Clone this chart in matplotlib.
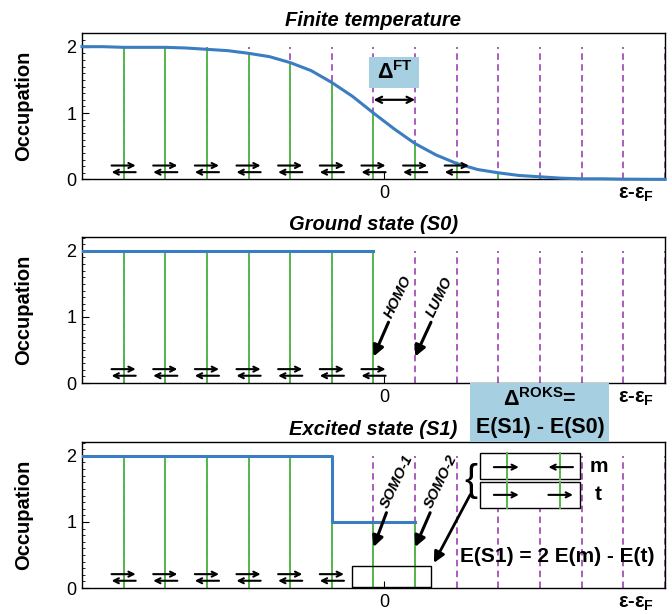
import matplotlib.pyplot as plt
import numpy as np
from matplotlib.patches import Rectangle
from matplotlib.ticker import MultipleLocator

plt.rcParams['font.family'] = ['Liberation Sans', 'DejaVu Sans']
plt.rcParams['mathtext.fontset'] = 'custom'
plt.rcParams['mathtext.rm'] = 'Liberation Sans'
plt.rcParams['mathtext.bf'] = 'Liberation Sans:bold'
plt.rcParams['mathtext.it'] = 'Liberation Sans:italic'

# orbital energies relative to the Fermi level (arb. units)
levels = [-6.3, -5.3, -4.3, -3.3, -2.3, -1.3, -0.3, 0.7, 1.7, 2.7, 3.7, 4.7, 5.7, 6.7]

# occupations per level
ft_occ = [1.99, 1.99, 1.96, 1.90, 1.76, 1.46, 1.00, 0.54, 0.24, 0.10, 0.04, 0.01, 0.005, 0.0]
s0_occ = [2, 2, 2, 2, 2, 2, 2, 0, 0, 0, 0, 0, 0, 0]
s1_occ = [2, 2, 2, 2, 2, 2, 1, 1, 0, 0, 0, 0, 0, 0]

# smearing curve
curve_x = [-7.3, -6.8, -6.3, -5.8, -5.3, -4.8, -4.3, -3.8, -3.3, -2.8, -2.3, -1.8, -1.3, -0.8, -0.3,
           0.2, 0.7, 1.2, 1.7, 2.2, 2.7, 3.2, 3.7, 4.2, 4.7, 5.2, 5.7, 6.2, 6.7]
curve_y = [2.00, 2.00, 1.99, 1.99, 1.99, 1.98, 1.96, 1.94, 1.90, 1.85, 1.76, 1.64, 1.46, 1.25, 1.00,
           0.76, 0.54, 0.37, 0.24, 0.15, 0.10, 0.06, 0.04, 0.02, 0.01, 0.01, 0.005, 0.003, 0.002]

# step lines of the ground and excited state
s0_x = [-7.3, -0.3]
s0_y = [2, 2]
s1_x = [-7.3, -1.3, -1.3, 0.7]
s1_y = [2, 2, 1, 1]

n_pairs = [9, 7, 6]
titles = ['Finite temperature', 'Ground state (S0)', 'Excited state (S1)']
xtick_pos = [-0.04, 6.0]
xtick_lab = ['0', r'ε-ε$_{\mathbf{F}}$']

blue = '#3a7dc0'
green = '#55b84a'
purple = '#a452b5'
boxblue = '#a7cfe2'


def spin(ax, x0, x1, y):
    ax.annotate('', xy=(x1, y), xytext=(x0, y),
                arrowprops=dict(arrowstyle='->', lw=1.5, color='k', shrinkA=0, shrinkB=0,
                                mutation_scale=9), zorder=5)


def setup(ax, title, occ, npair):
    ax.set_xlim(-7.3, 6.7)
    ax.set_ylim(0, 2.21)
    ax.set_title(title, fontsize=14.5, fontweight='bold', style='italic', pad=5)
    ax.set_ylabel('Occupation', fontsize=14.5, fontweight='bold')
    ax.yaxis.set_label_coords(-0.084, 0.5)
    ax.set_yticks([0, 1, 2])
    ax.yaxis.set_minor_locator(MultipleLocator(0.1))
    ax.tick_params(axis='y', which='major', direction='in', length=5, labelsize=13, pad=4)
    ax.tick_params(axis='y', which='minor', direction='in', length=2.5)
    ax.set_xticks(xtick_pos)
    ax.set_xticklabels(xtick_lab)
    ax.tick_params(axis='x', direction='in', length=5, labelsize=13, pad=4)
    ax.xaxis.get_major_ticks()[1].tick1line.set_visible(False)
    ax.get_xticklabels()[1].set_fontweight('bold')
    ax.get_xticklabels()[1].set_fontsize(14.5)
    for sp in ax.spines.values():
        sp.set_linewidth(1.0)

    for x, o in zip(levels, occ):
        ax.plot([x, x], [0, 2], color=purple, lw=1.3, ls=(0, (3.6, 2.4)), zorder=1)
        if o > 0:
            ax.plot([x, x], [0, o], color=green, lw=1.4, zorder=2)
    for x in levels[:npair]:
        spin(ax, x - 0.29, x + 0.29, 0.21)
        spin(ax, x + 0.29, x - 0.29, 0.11)


def pointer(ax, label, tip, tail, textpos):
    ax.annotate('', xy=tip, xytext=tail,
                arrowprops=dict(arrowstyle='-|>', lw=2.2, color='k', shrinkA=0, shrinkB=0,
                                mutation_scale=16), zorder=5)
    ax.text(textpos[0], textpos[1], label, rotation=64, ha='center', va='center',
            fontsize=10.5, fontweight='bold', style='italic')


fig = plt.figure(figsize=(6.72, 6.14), dpi=100)
ax1 = fig.add_axes([0.122, 0.7077, 0.8676, 0.239])
ax2 = fig.add_axes([0.122, 0.3762, 0.8676, 0.2378])
ax3 = fig.add_axes([0.122, 0.0423, 0.8676, 0.2378])

# finite temperature
setup(ax1, titles[0], ft_occ, n_pairs[0])
ax1.plot(curve_x, curve_y, color=blue, lw=2.2, zorder=3, clip_on=False)
ax1.add_patch(Rectangle((-0.4, 1.38), 1.2, 0.47, facecolor=boxblue, edgecolor='none', zorder=3))
ax1.text(0.21, 1.61, r'Δ$^{\mathbf{FT}}$', ha='center', va='center', fontsize=15.5,
         fontweight='bold', zorder=4)
ax1.annotate('', xy=(0.7, 1.20), xytext=(-0.3, 1.20),
             arrowprops=dict(arrowstyle='<->', lw=1.6, color='k', shrinkA=0, shrinkB=0,
                             mutation_scale=11), zorder=4)

# ground state
setup(ax2, titles[1], s0_occ, n_pairs[1])
ax2.plot(s0_x, s0_y, color=blue, lw=2.2, zorder=3)
pointer(ax2, 'HOMO', (-0.3, 0.40), (0.06, 0.92), (0.28, 1.30))
pointer(ax2, 'LUMO', (0.7, 0.40), (1.08, 0.92), (1.28, 1.30))

# excited state
setup(ax3, titles[2], s1_occ, n_pairs[2])
ax3.plot(s1_x, s1_y, color=blue, lw=2.2, zorder=3)
pointer(ax3, 'SOMO-1', (-0.3, 0.62), (0.01, 1.14), (0.26, 1.62))
pointer(ax3, 'SOMO-2', (0.7, 0.62), (1.06, 1.14), (1.31, 1.62))
ax3.add_patch(Rectangle((-0.81, 0.015), 1.89, 0.315, facecolor='none', edgecolor='k', lw=1.0,
                        zorder=4))
for yb, yc, flip in [(1.65, 1.83, True), (1.21, 1.41, False)]:
    ax3.add_patch(Rectangle((2.26, yb), 2.41, 0.39, facecolor='white', edgecolor='k', lw=1.0,
                            zorder=3))
    for xg in [2.91, 4.17]:
        ax3.plot([xg, xg], [yb, yb + 0.39], color=green, lw=1.4, zorder=4)
    spin(ax3, 2.59, 3.19, yc)
    if flip:
        spin(ax3, 4.49, 3.90, yc)
    else:
        spin(ax3, 3.90, 4.49, yc)
ax3.text(5.1, 1.84, 'm', ha='center', va='center', fontsize=15, fontweight='bold')
ax3.text(5.1, 1.41, 't', ha='center', va='center', fontsize=15, fontweight='bold')
ax3.text(2.04, 1.62, '{', ha='center', va='center', fontsize=28)
ax3.annotate('', xy=(1.15, 0.38), xytext=(2.02, 1.41),
             arrowprops=dict(arrowstyle='-|>', lw=2.0, color='k', shrinkA=0, shrinkB=0,
                             mutation_scale=16), zorder=5)
ax3.text(4.12, 0.47, 'E(S1) = 2 E(m) - E(t)', ha='center', va='center', fontsize=15,
         fontweight='bold')

# ROKS gap label between the lower panels
fig.add_artist(Rectangle((470 / 672, 1 - 442 / 614), 139 / 672, 59 / 614, transform=fig.transFigure,
                         facecolor=boxblue, edgecolor='none'))
fig.text(540 / 672, 1 - 400 / 614, r'Δ$^{\mathbf{ROKS}}$=', ha='center', va='center', fontsize=15.5,
         fontweight='bold')
fig.text(540 / 672, 1 - 427 / 614, 'E(S1) - E(S0)', ha='center', va='center', fontsize=15.5,
         fontweight='bold')

plt.savefig('out.png', dpi=100)
